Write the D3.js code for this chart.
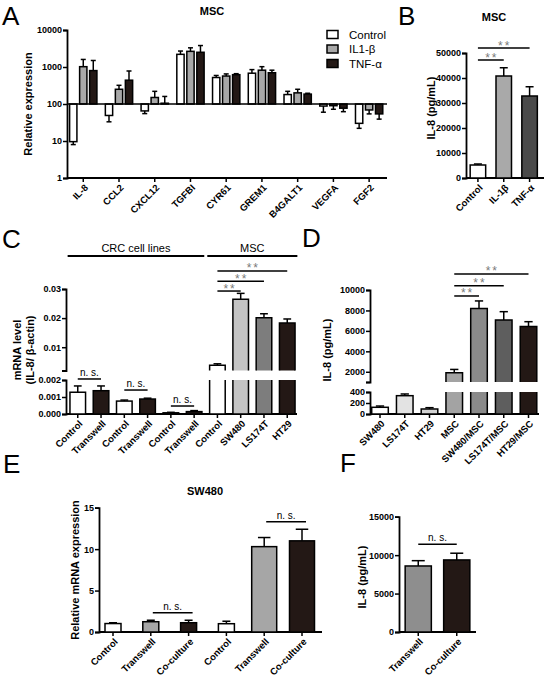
<!DOCTYPE html>
<html><head><meta charset="utf-8">
<script src="https://cdn.jsdelivr.net/npm/d3@7"></script>
<style>body{margin:0;background:#fff}svg{display:block}</style>
</head><body>
<script>
// ---------------- DATA ----------------
// Panel A (log scale, baseline 100)
const aGenes = ["IL-8","CCL2","CXCL12","TGFBI","CYR61","GREM1","B4GALT1","VEGFA","FGF2"];
const aSeries = ["Control","IL1-β","TNF-α"];
const aControl    = [9.6, 49, 65, 2200, 520, 680, 180, 88, 30];
const aControlErr = [8, 33, 55, 2700, 590, 850, 220, 60, 22];
const aIL1b       = [1020, 250, 150, 2650, 570, 820, 200, 90, 69];
const aIL1bErr    = [1600, 320, 220, 3300, 650, 1020, 250, 72, 54];
const aTNF        = [800, 440, 105, 2500, 620, 700, 185, 77, 54];
const aTNFErr     = [1500, 780, 160, 3800, 660, 820, 195, 62, 39];
const aTicks = [1, 10, 100, 1000, 10000];

// Panel B
const bGroups = ["Control","IL-1β","TNF-α"];
const bValues = [5200, 40800, 32800];
const bErr    = [5600, 44100, 36500];
const bTicks  = [0, 10000, 20000, 30000, 40000, 50000];
const bSig    = [[0, 1, 47200], [0, 2, 52000]];

// Panel C (broken axis)
const cLabels = ["Control","Transwell","Control","Transwell","Control","Transwell","Control","SW480","LS174T","HT29"];
const cValues = [0.00128, 0.00137, 0.00076, 0.00088, 0.00007, 0.00014, 0.0038, 0.0265, 0.0201, 0.0183];
const cErr    = [0.00165, 0.00165, 0.00082, 0.00093, 0.0001, 0.0002, 0.0043, 0.0285, 0.0215, 0.0197];
const cTicksLow = [0, 0.001, 0.002];
const cTicksHigh = [0.01, 0.02, 0.03];
const cNS  = [[0, 1, 0.00206], [2, 3, 0.00141], [4, 5, 0.00047]];
const cSig = [[6, 7, 0.0293], [6, 8, 0.0327], [6, 9, 0.0362]];
const cHeaders = [["CRC cell lines", 0, 5], ["MSC", 6, 9]];

// Panel D (broken axis)
const dLabels = ["SW480","LS174T","HT29","MSC","SW480/MSC","LS174T/MSC","HT29/MSC"];
const dValues = [122, 333, 91, 1900, 8200, 7070, 6420];
const dErr    = [145, 364, 115, 2230, 8930, 7880, 6900];
const dTicksLow = [0, 200, 400];
const dTicksHigh = [2000, 4000, 6000, 8000, 10000];
const dSig = [[3, 4, 9415], [3, 5, 10420], [3, 6, 11570]];

// Panel E
const eLabels = ["Control","Transwell","Co-culture","Control","Transwell","Co-culture"];
const eValues = [1.02, 1.24, 1.12, 1.0, 10.3, 11.0];
const eErr    = [1.12, 1.42, 1.42, 1.3, 11.4, 12.4];
const eTicks  = [0, 5, 10, 15];
const eNS     = [[1, 2, 2.33], [4, 5, 13.3]];

// Panel F
const fLabels = ["Transwell","Co-culture"];
const fValues = [8590, 9375];
const fErr    = [9280, 10250];
const fTicks  = [0, 5000, 10000, 15000];
const fNS     = [[0, 1, 11420]];

// ---------------- STYLE ----------------
const FONT = "'Liberation Sans', Arial, Helvetica, sans-serif";
const DARK = "#231815";
const svg = d3.select("body").append("svg").attr("width", 546).attr("height", 683);

function txt(x, y, s, o = {}) {
  return svg.append("text").attr("x", x).attr("y", y).text(s)
    .attr("font-family", FONT).attr("font-size", o.size || 10)
    .attr("font-weight", o.bold ? "bold" : "normal")
    .attr("text-anchor", o.anchor || "start")
    .attr("fill", o.fill || "#000");
}
function panelLetter(x, y, s) { txt(x, y, s, {size: 26}); }
function yLabel(x, y, s) {
  svg.append("text").attr("transform", `translate(${x},${y}) rotate(-90)`)
    .attr("text-anchor", "middle").attr("dominant-baseline", "central")
    .attr("font-family", FONT).attr("font-weight", "bold").attr("font-size", 11).text(s);
}
function yAxis(scale, x, ticks, fmt) {
  const g = svg.append("g").attr("transform", `translate(${x},0)`)
    .call(d3.axisLeft(scale).tickValues(ticks).tickFormat(fmt).tickSizeOuter(0).tickSize(4));
  g.select(".domain").attr("stroke", "#000").attr("stroke-width", 1.8);
  g.selectAll(".tick line").attr("stroke", "#000").attr("stroke-width", 1.5);
  g.selectAll(".tick text").attr("font-family", FONT).attr("font-weight", "bold")
    .attr("font-size", 9).attr("x", -5).attr("fill", "#000");
  return g;
}
function xAxis(y, x0, x1, centers, labels) {
  svg.append("line").attr("x1", x0).attr("x2", x1).attr("y1", y).attr("y2", y)
    .attr("stroke", "#000").attr("stroke-width", 1.8);
  centers.forEach((cx, i) => {
    svg.append("line").attr("x1", cx).attr("x2", cx).attr("y1", y).attr("y2", y + 4)
      .attr("stroke", "#000").attr("stroke-width", 1.5);
    svg.append("text").attr("transform", `translate(${cx + 3},${y + 8}) rotate(-45)`)
      .attr("text-anchor", "end").attr("dy", "0.35em")
      .attr("font-family", FONT).attr("font-weight", "bold").attr("font-size", 9.5)
      .text(labels[i]);
  });
}
function bar(x, w, y0, y1, fill) {
  svg.append("rect").attr("x", x - w / 2).attr("width", w)
    .attr("y", Math.min(y0, y1)).attr("height", Math.abs(y1 - y0))
    .attr("fill", fill).attr("stroke", "#000").attr("stroke-width", 1.5);
}
function errBar(x, y1, y2, cap) {
  svg.append("line").attr("x1", x).attr("x2", x).attr("y1", y1).attr("y2", y2)
    .attr("stroke", "#000").attr("stroke-width", 1.5);
  svg.append("line").attr("x1", x - cap / 2).attr("x2", x + cap / 2).attr("y1", y2).attr("y2", y2)
    .attr("stroke", "#000").attr("stroke-width", 1.5);
}
function sigLine(x1, x2, y, label, star) {
  svg.append("line").attr("x1", x1).attr("x2", x2).attr("y1", y).attr("y2", y)
    .attr("stroke", "#000").attr("stroke-width", 1.5);
  if (star) {
    const m = (x1 + x2) / 2;
    [-3.3, 3.3].forEach(d => txt(m + d, y + 1.5, "*", {size: 12, anchor: "middle", fill: "#7a7a7a"}));
  } else txt((x1 + x2) / 2, y - 3, label, {size: 10, anchor: "middle"});
}
function brokenBar(cx, w, v, e, lo, hi, fill) {
  const loMax = lo.domain()[1];
  const yb = lo(0);
  if (v <= loMax) {
    bar(cx, w, yb, lo(v), fill);
    errBar(cx, lo(v), lo(e), w * 0.5);
    return;
  }
  const l = cx - w / 2, r = cx + w / 2, yt = lo(loMax);
  svg.append("rect").attr("x", l).attr("width", w).attr("y", yt).attr("height", yb - yt).attr("fill", fill);
  svg.append("path").attr("d", `M${l},${yt}L${l},${yb}L${r},${yb}L${r},${yt}`)
    .attr("fill", "none").attr("stroke", "#000").attr("stroke-width", 1.5);
  const y0 = hi(hi.domain()[0]), y1 = hi(v);
  svg.append("rect").attr("x", l).attr("width", w).attr("y", y1).attr("height", y0 - y1).attr("fill", fill);
  svg.append("path").attr("d", `M${l},${y0}L${l},${y1}L${r},${y1}L${r},${y0}`)
    .attr("fill", "none").attr("stroke", "#000").attr("stroke-width", 1.5);
  errBar(cx, y1, hi(e), w * 0.5);
}

// ---------------- PANEL A ----------------
{
  panelLetter(2, 25, "A");
  txt(212, 15, "MSC", {bold: true, size: 11, anchor: "middle"});
  const y = d3.scaleLog().domain([1, 10000]).range([178, 30]);
  const x = d3.scaleBand().domain(aGenes).range([65.4, 387]).paddingInner(0).paddingOuter(0);
  const xi = d3.scaleBand().domain(aSeries).range([-13.65, 13.65]).paddingInner(0.27);
  const fills = ["#ffffff", "#a8a8a8", DARK];
  const vals = [aControl, aIL1b, aTNF], errs = [aControlErr, aIL1bErr, aTNFErr];
  yAxis(y, 67, aTicks, d3.format("d"));
  yLabel(28, 104, "Relative expression");
  const centers = aGenes.map(g => x(g) + x.bandwidth() / 2);
  xAxis(178, 67, 387, centers, aGenes);
  aGenes.forEach((g, i) => {
    aSeries.forEach((s, k) => {
      const cx = centers[i] + xi(s) + xi.bandwidth() / 2;
      const v = vals[k][i], e = errs[k][i];
      bar(cx, xi.bandwidth(), y(100), y(v), fills[k]);
      errBar(cx, y(v), y(e), 5);
    });
  });
  svg.append("line").attr("x1", 67).attr("x2", 387).attr("y1", y(100)).attr("y2", y(100))
    .attr("stroke", "#000").attr("stroke-width", 1.5);
  aSeries.forEach((s, k) => {
    svg.append("rect").attr("x", 327).attr("y", 30.5 + k * 14.5).attr("width", 11).attr("height", 8)
      .attr("fill", fills[k]).attr("stroke", "#000").attr("stroke-width", 1.5);
    txt(349, 38.5 + k * 14.5, s, {size: 11.5});
  });
}

// ---------------- PANEL B ----------------
{
  panelLetter(398, 25, "B");
  txt(494, 21, "MSC", {bold: true, size: 11, anchor: "middle"});
  const y = d3.scaleLinear().domain([0, 50000]).range([178, 53]);
  const x = d3.scaleBand().domain(bGroups).range([465, 542.5]).paddingInner(0.4).paddingOuter(0.2);
  const fills = ["#ffffff", "#a9a9a9", "#4a4a4a"];
  yAxis(y, 466, bTicks, d3.format("d"));
  yLabel(431, 108, "IL-8 (pg/mL)");
  const centers = bGroups.map(g => x(g) + x.bandwidth() / 2);
  xAxis(178, 466, 544, centers, bGroups);
  bGroups.forEach((g, i) => {
    bar(centers[i], x.bandwidth(), y(0), y(bValues[i]), fills[i]);
    errBar(centers[i], y(bValues[i]), y(bErr[i]), 8);
  });
  bSig.forEach(([a, b, v]) => sigLine(centers[a], centers[b], y(v), "* *", true));
}

// ---------------- PANEL C ----------------
{
  panelLetter(2, 248, "C");
  const lo = d3.scaleLinear().domain([0, 0.002]).range([414, 380]);
  const hi = d3.scaleLinear().domain([0.002, 0.03]).range([370.5, 289]);
  const x = d3.scaleBand().domain(d3.range(cLabels.length)).range([66, 299]).paddingInner(0.33).paddingOuter(0.17);
  const fills = ["#ffffff", DARK, "#ffffff", DARK, "#ffffff", DARK, "#ffffff", "#c4c4c4", "#7d7d7d", DARK];
  yAxis(lo, 66, cTicksLow, d3.format(".3f"));
  yAxis(hi, 66, [0.002].concat(cTicksHigh), d => d === 0.002 ? "" : d3.format(".2f")(d));
  svg.append("text").attr("transform", "translate(22,350) rotate(-90)")
    .attr("text-anchor", "middle").attr("font-family", FONT).attr("font-weight", "bold").attr("font-size", 11)
    .call(t => {
      t.append("tspan").attr("x", 0).attr("dy", "-0.1em").text("mRNA level");
      t.append("tspan").attr("x", 0).attr("dy", "1.15em").text("(IL-8/ β-actin)");
    });
  const centers = cLabels.map((_, i) => x(i) + x.bandwidth() / 2);
  xAxis(414, 66, 297, centers, cLabels);
  cLabels.forEach((_, i) => brokenBar(centers[i], x.bandwidth(), cValues[i], cErr[i], lo, hi, fills[i]));
  cNS.forEach(([a, b, v]) => sigLine(centers[a], centers[b], lo(v), "n. s.", false));
  cSig.forEach(([a, b, v]) => sigLine(centers[a], centers[b], hi(v), "* *", true));
  cHeaders.forEach(([s, a, b]) => {
    const x1 = x(a) - 0.1 * x.step(), x2 = x(b) + x.bandwidth() + 0.1 * x.step();
    svg.append("line").attr("x1", x1).attr("x2", x2).attr("y1", 256).attr("y2", 256)
      .attr("stroke", "#000").attr("stroke-width", 2);
    txt((x1 + x2) / 2, 251.5, s, {size: 11, anchor: "middle"});
  });
}

// ---------------- PANEL D ----------------
{
  panelLetter(302, 247, "D");
  const lo = d3.scaleLinear().domain([0, 400]).range([414, 392]);
  const hi = d3.scaleLinear().domain([1000, 10000]).range([382, 290]);
  const x = d3.scaleBand().domain(d3.range(dLabels.length)).range([367.5, 541]).paddingInner(0.33).paddingOuter(0.17);
  const fills = ["#ffffff", "#e3e3e3", "#d2d2d2", "#a3a3a3", "#8a8a8a", "#5e5e5e", DARK];
  yAxis(lo, 370, dTicksLow, d3.format("d"));
  yAxis(hi, 370, [1000].concat(dTicksHigh), d => d === 1000 ? "" : d3.format("d")(d));
  yLabel(327, 350, "IL-8 (pg/mL)");
  const centers = dLabels.map((_, i) => x(i) + x.bandwidth() / 2);
  xAxis(414, 370, 539, centers, dLabels);
  dLabels.forEach((_, i) => brokenBar(centers[i], x.bandwidth(), dValues[i], dErr[i], lo, hi, fills[i]));
  dSig.forEach(([a, b, v]) => sigLine(centers[a], centers[b], hi(v), "* *", true));
}

// ---------------- PANEL E ----------------
{
  panelLetter(3, 473, "E");
  txt(205, 495, "SW480", {bold: true, size: 11, anchor: "middle"});
  const y = d3.scaleLinear().domain([0, 15]).range([632, 507.7]);
  const x = d3.scalePoint().domain(d3.range(eLabels.length)).range([113, 302]);
  const widths = [16, 16, 16, 16, 25, 25];
  const fills = ["#ffffff", "#a6a6a6", DARK, "#ffffff", "#a6a6a6", DARK];
  yAxis(y, 99, eTicks, d3.format("d"));
  yLabel(75, 570, "Relative mRNA expression");
  const centers = eLabels.map((_, i) => x(i));
  xAxis(632, 99, 322, centers, eLabels);
  eLabels.forEach((_, i) => {
    bar(centers[i], widths[i], y(0), y(eValues[i]), fills[i]);
    errBar(centers[i], y(eValues[i]), y(eErr[i]), widths[i] * 0.5);
  });
  eNS.forEach(([a, b, v]) => sigLine(centers[a] + 2, centers[b] + 4, y(v), "n. s.", false));
}

// ---------------- PANEL F ----------------
{
  panelLetter(340, 472, "F");
  const y = d3.scaleLinear().domain([0, 15000]).range([632, 516.7]);
  const x = d3.scaleBand().domain(fLabels).range([399, 476]).paddingInner(0.32).paddingOuter(0.16);
  const fills = ["#8e8e8e", DARK];
  yAxis(y, 399, fTicks, d3.format("d"));
  yLabel(362, 577, "IL-8 (pg/mL)");
  const centers = fLabels.map(g => x(g) + x.bandwidth() / 2);
  xAxis(632, 399, 476, centers, fLabels);
  fLabels.forEach((g, i) => {
    bar(centers[i], x.bandwidth(), y(0), y(fValues[i]), fills[i]);
    errBar(centers[i], y(fValues[i]), y(fErr[i]), 13);
  });
  fNS.forEach(([a, b, v]) => sigLine(centers[a], centers[b], y(v), "n. s.", false));
}
</script>
</body></html>
